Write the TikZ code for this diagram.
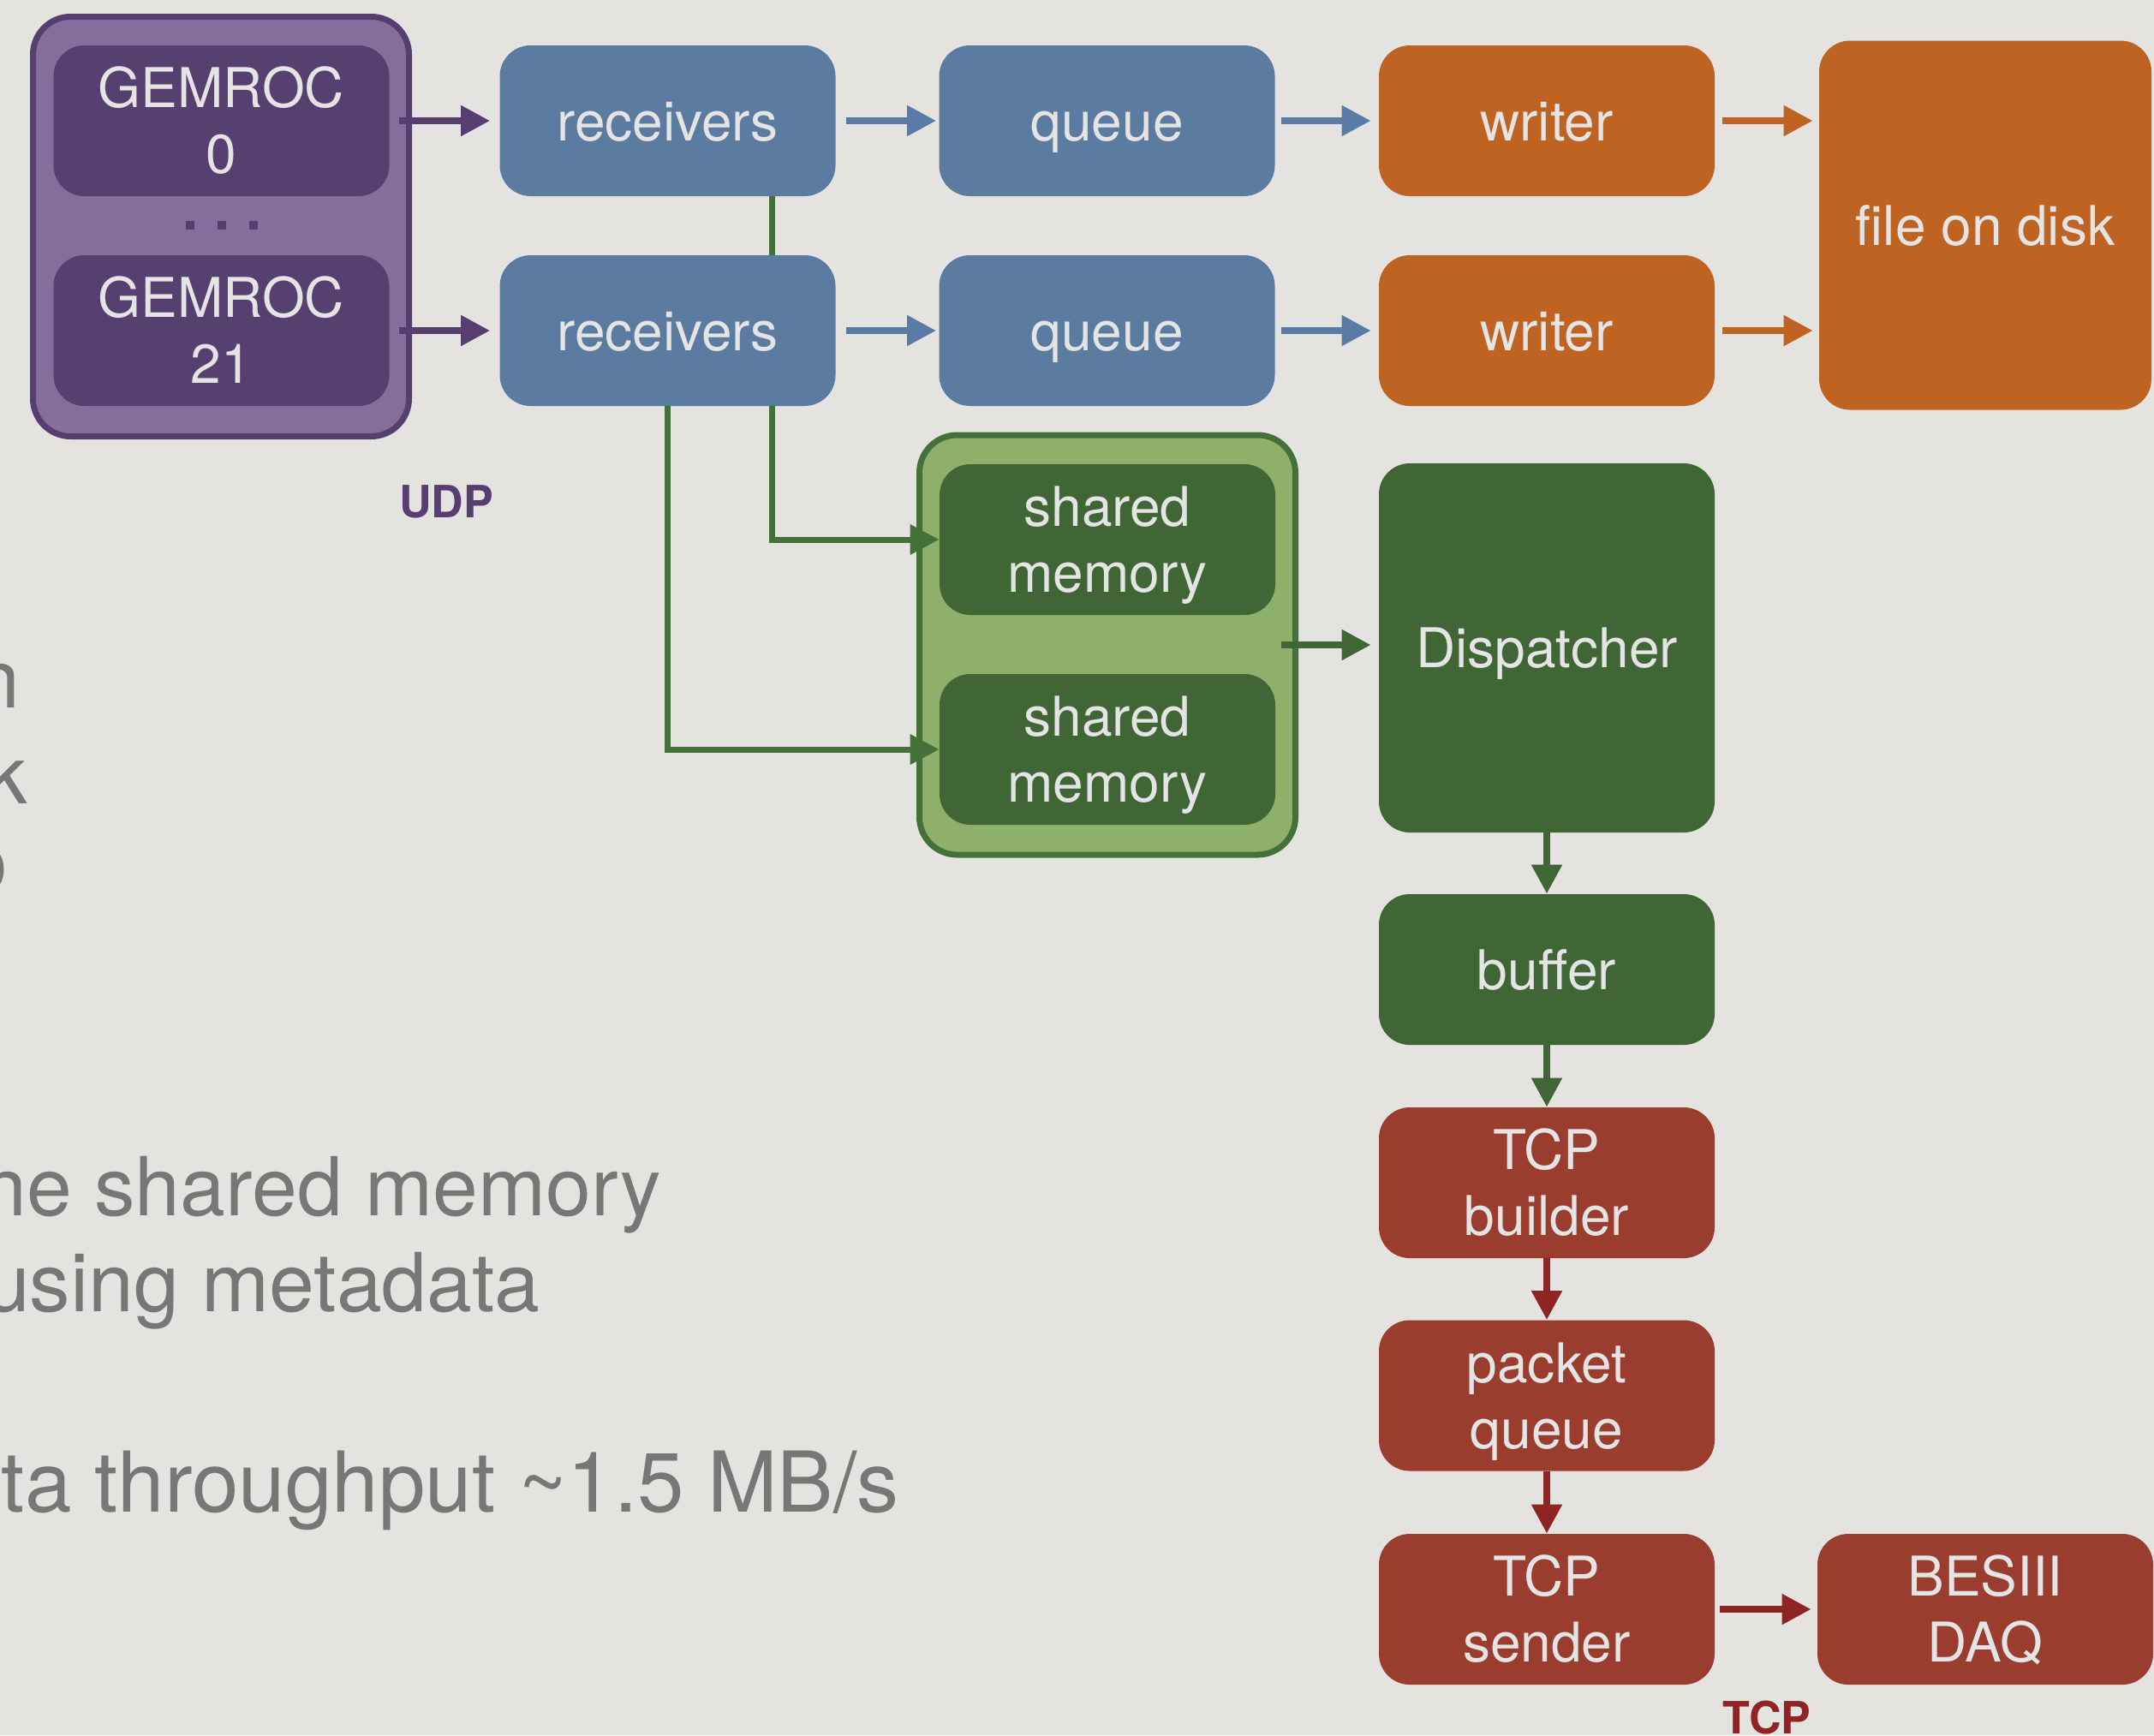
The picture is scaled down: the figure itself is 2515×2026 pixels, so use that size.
\documentclass[tikz,border=0pt]{standalone}
\usepackage{fontspec}
\setmainfont{TeX Gyre Heros}
\usetikzlibrary{arrows.meta,calc}
\definecolor{bg}{HTML}{E4E3E0}
\definecolor{gemouterfill}{HTML}{836E9C}
\definecolor{gemborder}{HTML}{563E70}
\definecolor{gemfill}{HTML}{56406F}
\definecolor{bluefill}{HTML}{5B7BA0}
\definecolor{bluearrow}{HTML}{5A7BA5}
\definecolor{orangefill}{HTML}{BF6323}
\definecolor{greenfill}{HTML}{3F6634}
\definecolor{smouterfill}{HTML}{8FB06B}
\definecolor{greenline}{HTML}{44703A}
\definecolor{redfill}{HTML}{9A3D2E}
\definecolor{redarrow}{HTML}{8E2424}
\definecolor{boxtext}{HTML}{E4E4E4}
\definecolor{slidegray}{HTML}{777777}
\newcommand{\one}[1]{\rule{0pt}{23pt}\smash{#1}}
\newcommand{\two}[2]{\rule{0pt}{23pt}\smash{#1}\\\smash{#2}}
\begin{document}
\begin{tikzpicture}[x=0.5pt,y=-0.5pt,
  box/.style={rectangle, rounded corners=18pt, inner sep=0pt, text=boxtext,
    font=\fontsize{32}{38.5}\selectfont, align=center,
    minimum width=196pt, minimum height=88pt},
  purplebox/.style={box, fill=gemfill},
  bluebox/.style={box, fill=bluefill},
  orangebox/.style={box, fill=orangefill},
  greenbox/.style={box, fill=greenfill},
  redbox/.style={box, fill=redfill},
  group/.style={rectangle, rounded corners=22pt, line width=3.5pt,
    minimum width=219.5pt, minimum height=245pt, inner sep=0pt},
  arr/.style={line width=4pt, -{Triangle[length=17pt,width=17pt]}},
  garr/.style={line width=3.5pt, color=greenline, -{Triangle[length=17pt,width=17pt]}},
  link/.style={line width=3.5pt, draw=greenline},
  dotsq/.style={rectangle, fill=gemborder, minimum size=5pt, inner sep=0pt},
  sidetext/.style={text=slidegray, font=\fontsize{47.5}{57}\selectfont, anchor=base east, inner sep=0pt},
  sidewide/.style={sidetext, font=\fontsize{49}{58}\selectfont},
  proto/.style={font=\bfseries\fontsize{26}{30}\selectfont, inner sep=0pt}
]
\useasboundingbox (0,0) rectangle (2515,2026);
\clip (0,0) rectangle (2515,2026);
\fill[bg] (0,0) rectangle (2515,2026);

% slide text (clipped on the left)
\node[sidetext] (t1) at (24,826) {n};
\node[sidetext] (t2) at (32,938) {k};
\node[sidetext] (t3) at (10,1040) {o};
\node[sidetext] (t4) at (772,1419) {ne shared memory};
\node[sidetext] (t5) at (631,1531) {using metadata};
\node[sidewide] (t6) at (1050,1765) {ta throughput \textasciitilde1.5 MB/s};

% GEMROC group
\node[group, fill=gemouterfill, draw=gemborder] (gemgroup) at (258,264.5) {};
\node[purplebox] (gem0) at (258.5,141) {\two{GEMROC}{0}};
\node[purplebox] (gem21) at (258.5,386) {\two{GEMROC}{21}};
\node[dotsq] (d1) at (222,263) {};
\node[dotsq] (d2) at (259,263) {};
\node[dotsq] (d3) at (296,263) {};
\node[proto, text=gemborder] (udp) at (521,586) {UDP};

% receivers / queues / writers
\node[bluebox] (rec1) at (779.5,141) {\one{receivers}};
\node[bluebox] (rec2) at (779.5,386) {\one{receivers}};
\node[bluebox] (q1) at (1292.5,141) {\one{queue}};
\node[bluebox] (q2) at (1292.5,386) {\one{queue}};
\node[orangebox] (w1) at (1806,141) {\one{writer}};
\node[orangebox] (w2) at (1806,386) {\one{writer}};
\node[orangebox, minimum width=194pt, minimum height=215.5pt] (file) at (2318,263) {\one{file on disk}};

% shared memory group
\node[group, fill=smouterfill, draw=greenline] (smgroup) at (1293,753) {};
\node[greenbox] (sm1) at (1293,630) {\two{shared}{memory}};
\node[greenbox] (sm2) at (1293,875) {\two{shared}{memory}};
\node[greenbox, minimum height=215.5pt] (disp) at (1806,756.5) {\one{Dispatcher}};
\node[greenbox] (buf) at (1806,1132) {\one{buffer}};
\node[redbox] (tcpb) at (1806,1381) {\two{TCP}{builder}};
\node[redbox] (pq) at (1806,1629.5) {\two{packet}{queue}};
\node[redbox] (tcps) at (1806,1879) {\two{TCP}{sender}};
\node[redbox] (bes) at (2318,1879) {\two{BESIII}{DAQ}};
\node[proto, text=redarrow] (tcp) at (2063,2006) {TCP};

% connectors
\draw[arr, gemborder, shorten <=5.5pt, shorten >=5.5pt] (gem0.east) -- (gem0.east -| rec1.west);
\draw[arr, gemborder, shorten <=5.5pt, shorten >=5.5pt] (gem21.east) -- (gem21.east -| rec2.west);
\draw[arr, bluearrow, shorten <=6pt, shorten >=1.5pt] (rec1) -- (q1);
\draw[arr, bluearrow, shorten <=6pt, shorten >=1.5pt] (rec2) -- (q2);
\draw[arr, bluearrow, shorten <=3.5pt, shorten >=4.5pt] (q1) -- (w1);
\draw[arr, bluearrow, shorten <=3.5pt, shorten >=4.5pt] (q2) -- (w2);
\draw[arr, orangefill, shorten <=4.5pt, shorten >=3.5pt] (w1.east) -- (w1.east -| file.west);
\draw[arr, orangefill, shorten <=4.5pt, shorten >=3.5pt] (w2.east) -- (w2.east -| file.west);

\draw[link] ($(rec1.south)+(121.5,0)$) -- ($(rec2.north)+(121.5,0)$);
\draw[garr] ($(rec2.south)+(121.5,0)$) |- (sm1.west);
\draw[garr] (rec2.south) |- (sm2.west);
\draw[arr, greenfill, shorten <=3.5pt, shorten >=4.5pt] (smgroup.center -| sm1.east) -- (smgroup.center -| disp.west);

\draw[arr, greenfill] (disp) -- (buf);
\draw[arr, greenfill] (buf) -- (tcpb);
\draw[arr, redarrow] (tcpb) -- (pq);
\draw[arr, redarrow] (pq) -- (tcps);
\draw[arr, redarrow, shorten <=3pt, shorten >=3.5pt] (tcps) -- (bes);
\end{tikzpicture}
\end{document}
